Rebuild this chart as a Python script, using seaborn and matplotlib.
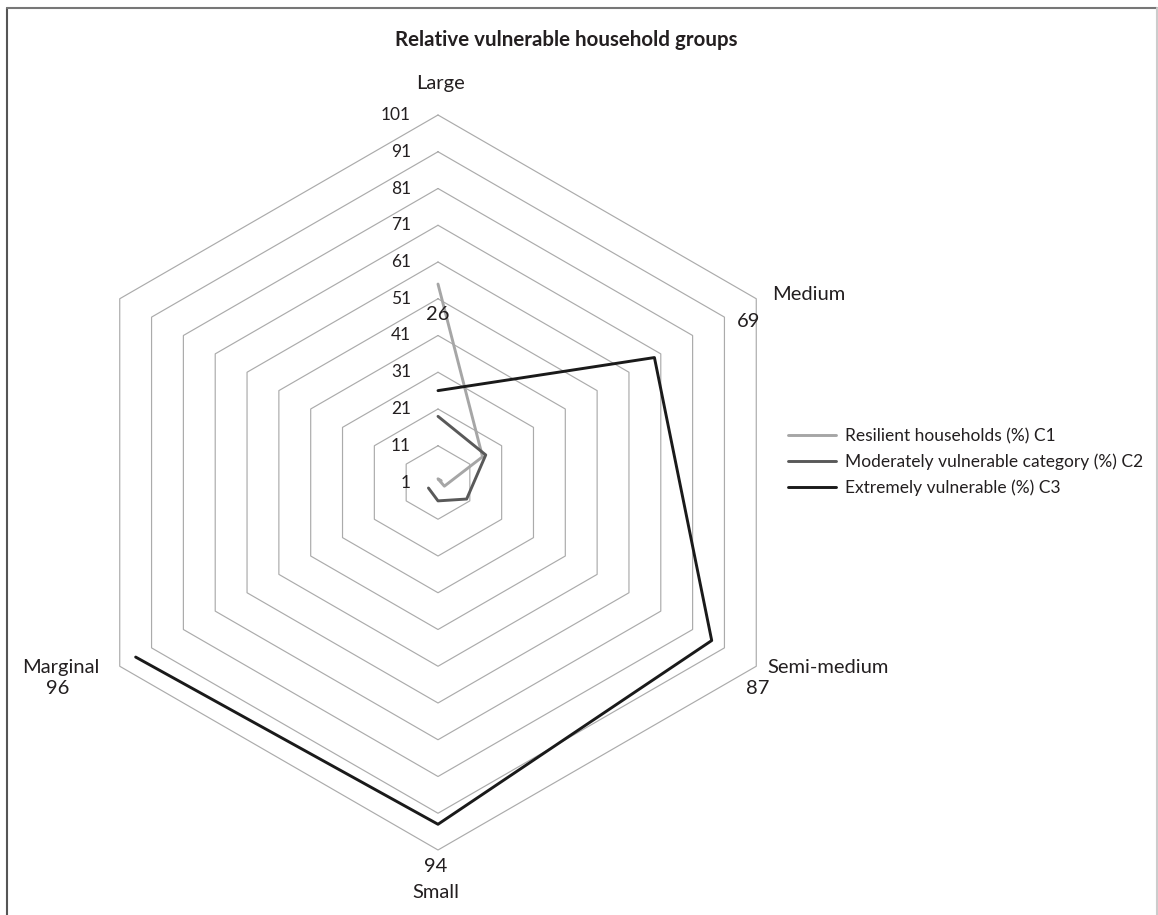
import numpy as np
import pandas as pd
import matplotlib
matplotlib.use("Agg")
import matplotlib.pyplot as plt
import seaborn as sns
from matplotlib.lines import Line2D

# categories clockwise from the top; the sixth spoke has no name and no data
categories = ["Large", "Medium", "Semi-medium", "Small", "Marginal", ""]
c1_resilient = [55, 15, 3, 0, 0]
c2_moderate = [19, 16, 10, 6, 4]
c3_extreme = [26, 69, 87, 94, 96]
series_names = ["Resilient households (%) C1",
                "Moderately vulnerable category (%) C2",
                "Extremely vulnerable (%) C3"]
ring_ticks = [1, 11, 21, 31, 41, 51, 61, 71, 81, 91, 101]
c3_value_labels = ["26", "69", "87", "94", "96"]

sns.set_style("white")
plt.rcParams["font.family"] = ["Lato", "DejaVu Sans"]
txt_col = "#231f20"

W, H = 1158, 915
fig = plt.figure(figsize=(W / 100, H / 100), dpi=100)
ax = fig.add_axes([0, 0, 1, 1])

axis_min = ring_ticks[0]
n = len(categories)
theta = np.pi / 2 - 2 * np.pi * np.arange(n) / n

# centre of the radar in pixels and pixels per value unit
cx, cy, ppu = 438, 482.5, 3.675
ax.set_xlim(-cx / ppu, (W - cx) / ppu)
ax.set_ylim(-(H - cy) / ppu, cy / ppu)
ax.axis("off")

# hexagonal rings + ring labels
th_closed = np.append(theta, theta[0])
for t in ring_ticks:
    r = t - axis_min
    if r > 0:
        ax.plot(r * np.cos(th_closed), r * np.sin(th_closed),
                color="#ababab", lw=0.85, zorder=1)
    ax.text(-27 / ppu, r, str(t), ha="right", va="center",
            fontsize=12.5, color=txt_col)

# series data in long form
rows = []
for name, vals in zip(series_names, [c1_resilient, c2_moderate, c3_extreme]):
    for cat, v, th in zip(categories, vals, theta):
        r = v - axis_min
        rows.append({"series": name, "category": cat,
                     "x": r * np.cos(th), "y": r * np.sin(th)})
df = pd.DataFrame(rows)

palette = dict(zip(series_names, ["#a6a6a6", "#595959", "#1a1a1a"]))
sns.lineplot(data=df, x="x", y="y", hue="series", sort=False, estimator=None,
             palette=palette, linewidth=2.1, ax=ax, zorder=3)

handles, labels = ax.get_legend_handles_labels()
ax.legend(handles, labels, loc="upper left",
          bbox_to_anchor=(788 / W, 1 - 428 / H), bbox_transform=fig.transFigure,
          frameon=False, borderpad=0, borderaxespad=0, handlelength=2.75,
          handletextpad=0.55, labelspacing=0.55, fontsize=12.5,
          labelcolor=txt_col)

# category labels around the outer ring
r_out = ring_ticks[-1] - axis_min
cat_offsets = [(3, 31, "center"), (16, 4, "left"), (11, -1, "left"),
               (-2, -43, "center"), (-20, -1, "right")]
for cat, th, (dx, dy, ha) in zip(categories, theta, cat_offsets):
    ax.annotate(cat, xy=(r_out * np.cos(th), r_out * np.sin(th)),
                xytext=(dx, dy), textcoords="offset pixels",
                ha=ha, va="center", fontsize=14.5, color=txt_col)

# C3 value labels
val_offsets = [(0, -200), (-8, -23), (1, -22), (-2, -17), (-62, -22)]
for lab, th, (dx, dy) in zip(c3_value_labels, theta, val_offsets):
    ax.annotate(lab, xy=(r_out * np.cos(th), r_out * np.sin(th)),
                xytext=(dx, dy), textcoords="offset pixels",
                ha="center", va="center", fontsize=14.5, color=txt_col)

ax.text((566 - cx) / ppu, (cy - 40) / ppu, "Relative vulnerable household groups",
        ha="center", va="center", fontsize=14.8, fontweight="bold", color=txt_col)

# outer frame of the original figure
fig.add_artist(Line2D([7.5 / W, 7.5 / W], [0, 1 - 8 / H], transform=fig.transFigure,
                      color="#555555", lw=1.5))
fig.add_artist(Line2D([7.5 / W, 1157 / W], [1 - 8 / H, 1 - 8 / H],
                      transform=fig.transFigure, color="#777777", lw=1.5))
fig.add_artist(Line2D([1157 / W, 1157 / W], [0, 1 - 8 / H], transform=fig.transFigure,
                      color="#cccccc", lw=1.5))

fig.savefig("out.png", dpi=100)
